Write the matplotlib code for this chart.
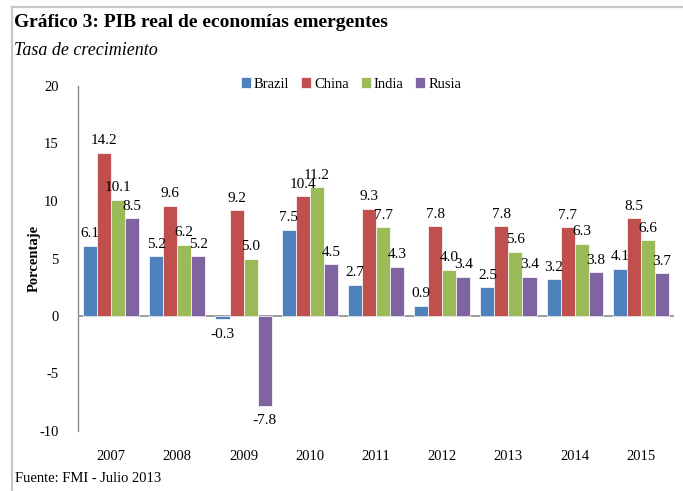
import numpy as np
import matplotlib
matplotlib.use('Agg')
import matplotlib.pyplot as plt
from matplotlib.lines import Line2D

years = ['2007', '2008', '2009', '2010', '2011', '2012', '2013', '2014', '2015']
brazil = [6.1, 5.2, -0.3, 7.5, 2.7, 0.9, 2.5, 3.2, 4.1]
china = [14.2, 9.6, 9.2, 10.4, 9.3, 7.8, 7.8, 7.7, 8.5]
india = [10.1, 6.2, 5.0, 11.2, 7.7, 4.0, 5.6, 6.3, 6.6]
rusia = [8.5, 5.2, -7.8, 4.5, 4.3, 3.4, 3.4, 3.8, 3.7]

series = [('Brazil', brazil, '#4F81BD'),
          ('China', china, '#C0504D'),
          ('India', india, '#9BBB59'),
          ('Rusia', rusia, '#8064A2')]

plt.rcParams['font.family'] = ['Liberation Serif', 'DejaVu Serif']
plt.rcParams['axes.unicode_minus'] = False

W, H = 683, 491
fig = plt.figure(figsize=(W / 100, H / 100), dpi=100)

# plot area placed in pixel units
left, right, top, bottom = 78, 674, 86, 431
ax = fig.add_axes([left / W, 1 - bottom / H, (right - left) / W, (bottom - top) / H])

x = np.arange(len(years))
bw = 0.212
for i, (name, vals, col) in enumerate(series):
    pos = x + (i - 1.5) * bw
    bars = ax.bar(pos, vals, bw, color=col, edgecolor='white', linewidth=0.5, label=name, zorder=2)
    for b, v in zip(bars, vals):
        off = 4 if v >= 0 else -6
        ax.annotate('{:.1f}'.format(v), (b.get_x() + b.get_width() / 2, v),
                    xytext=(0, off), textcoords='offset points',
                    ha='center', va='bottom' if v >= 0 else 'top', fontsize=11, zorder=3)

ax.axhline(0, color='#8c8c8c', linewidth=1.2, zorder=1)
ax.set_xlim(-0.5, len(years) - 0.5)
ax.set_ylim(-10, 20)
ax.set_yticks([-10, -5, 0, 5, 10, 15, 20])
ax.set_xticks(x)
ax.set_xticklabels(years)
ax.tick_params(axis='y', length=0, pad=14, labelsize=10.5)
ax.tick_params(axis='x', length=0, pad=14, labelsize=10.5)
for s in ['top', 'right', 'bottom']:
    ax.spines[s].set_visible(False)
ax.spines['left'].set_color('#8c8c8c')
ax.spines['left'].set_linewidth(1.0)
ax.set_ylabel('Porcentaje', fontsize=10.5, fontweight='bold')
ax.yaxis.set_label_coords((41 - left) / (right - left), 0.5)

fig.legend(loc='center', bbox_to_anchor=(351 / W, 1 - 84 / H), ncol=4, frameon=False,
           fontsize=10.5, handlelength=0.7, handleheight=0.7, handletextpad=0.2,
           columnspacing=0.8)

fig.text(14 / W, 1 - 27 / H, 'Gráfico 3: PIB real de economías emergentes',
         fontsize=14, fontweight='bold', va='baseline', ha='left')
fig.text(14 / W, 1 - 55 / H, 'Tasa de crecimiento', fontsize=13, style='italic',
         va='baseline', ha='left')
fig.text(15 / W, 1 - 482 / H, 'Fuente: FMI - Julio 2013', fontsize=10.5,
         va='baseline', ha='left')

# frame lines along the top and left edges
fig.add_artist(Line2D([11.5 / W, 1], [1 - 6.5 / H, 1 - 6.5 / H], color='#c8c8c8', linewidth=1.6))
fig.add_artist(Line2D([11.5 / W, 11.5 / W], [0, 1 - 6.5 / H], color='#c8c8c8', linewidth=1.6))

fig.savefig('out.png', dpi=100)
